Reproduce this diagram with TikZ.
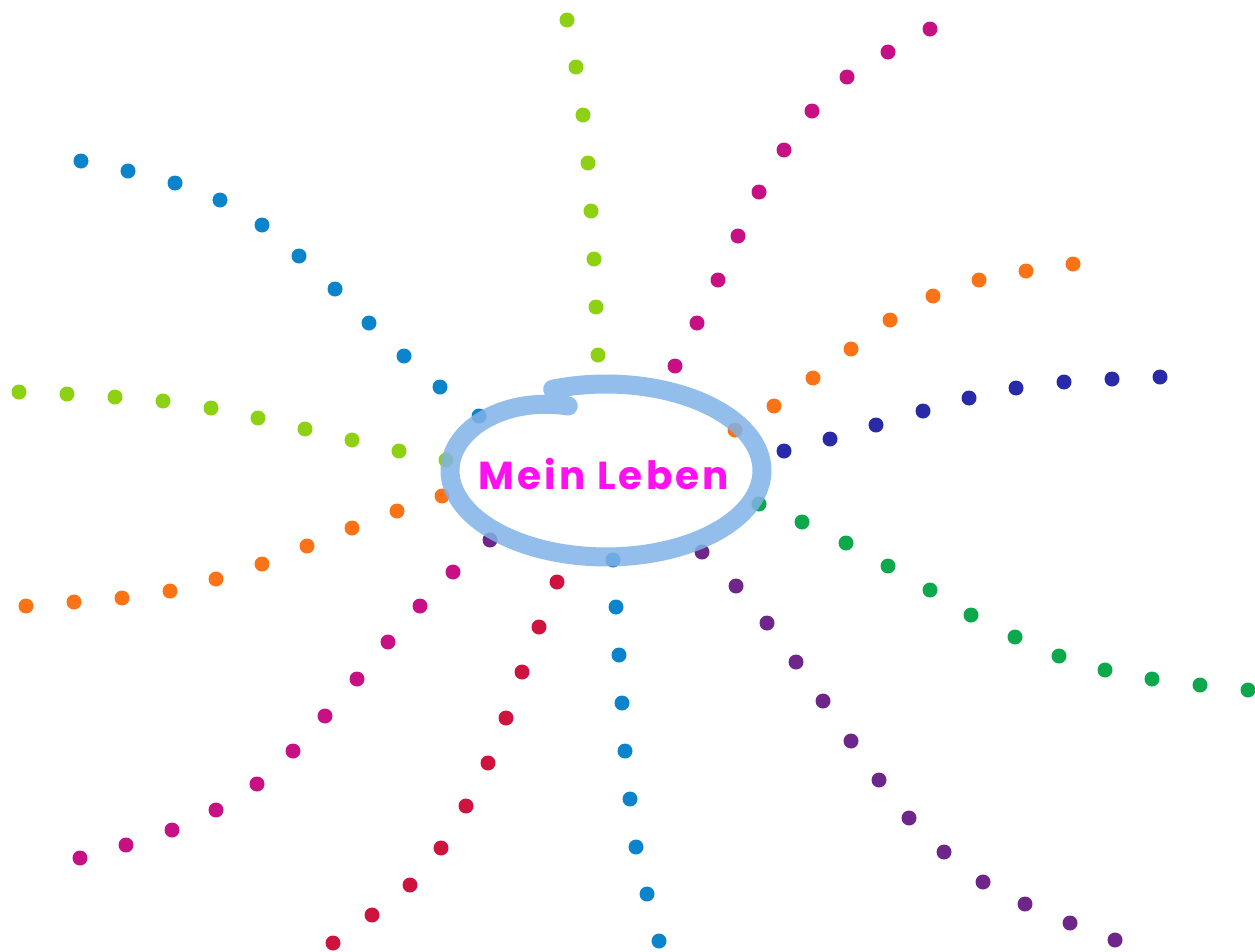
\documentclass[tikz,border=0pt]{standalone}
\usepackage{fontspec}
\newfontfamily\titlefont{Poppins}[LetterSpace=8]
\definecolor{clime}{RGB}{142,208,18}
\definecolor{cmag}{RGB}{198,16,132}
\definecolor{corange}{RGB}{250,115,22}
\definecolor{cdblue}{RGB}{40,42,168}
\definecolor{cgreen}{RGB}{14,168,76}
\definecolor{cpurple}{RGB}{110,38,138}
\definecolor{cblue}{RGB}{12,132,204}
\definecolor{cred}{RGB}{206,20,62}
\definecolor{ring}{RGB}{128,178,232}
\definecolor{titlemag}{RGB}{255,16,240}
\begin{document}
\begin{tikzpicture}[x=1pt,y=-1pt,
  dotstyle/.style={fill=#1},
  ringstyle/.style={draw=ring,line width=19pt,line cap=round,opacity=0.85}]
\useasboundingbox (0,0) rectangle (1255,951);
% rays of dots
\newcommand{\dotray}[2]{\foreach \p in {#2}{\fill[dotstyle=#1] \p circle[radius=7.5];}}
\dotray{clime}{(567,20),(576,67),(583,115),(588,163),(591,211),(594,259),(596,307),(598,355)}
\dotray{cmag}{(930,29),(888,52),(847,77),(812,111),(784,150),(759,192),(738,236),(718,280),(697,323),(675,366)}
\dotray{corange}{(1073,264),(1026,271),(979,280),(933,296),(890,320),(851,349),(813,378),(774,406),(735,430)}
\dotray{cdblue}{(1160,377),(1112,379),(1064,382),(1016,388),(969,398),(923,411),(876,425),(830,439),(784,451)}
\dotray{cgreen}{(759,504),(802,522),(846,543),(888,566),(930,590),(971,615),(1015,637),(1059,656),(1105,670),(1152,679),(1200,685),(1248,690)}
\dotray{cpurple}{(702,552),(736,586),(767,623),(796,662),(823,701),(851,741),(879,780),(909,818),(944,852),(983,882),(1025,904),(1070,923),(1115,940)}
\dotray{cblue}{(613,560),(616,607),(619,655),(622,703),(625,751),(630,799),(636,847),(647,894),(659,941)}
\dotray{cred}{(557,582),(539,627),(522,672),(506,718),(488,763),(466,806),(441,848),(410,885),(372,915),(333,943)}
\dotray{cpurple}{(490,540)}
\dotray{cmag}{(453,572),(420,606),(388,642),(357,679),(325,716),(293,751),(257,784),(216,810),(172,830),(126,845),(80,858)}
\dotray{corange}{(442,496),(397,511),(352,528),(307,546),(262,564),(216,579),(170,591),(122,598),(74,602),(26,606)}
\dotray{clime}{(446,460),(399,451),(352,440),(305,429),(258,418),(211,408),(163,401),(115,397),(67,394),(19,392)}
\dotray{cblue}{(479,416),(440,387),(404,356),(369,323),(335,289),(299,256),(262,225),(220,200),(175,183),(128,171),(81,161)}
% hand-drawn ring
\draw[ringstyle] plot[domain=104:470,samples=140,smooth,variable=\t]
  ({606+156*cos(\t)},{470.5-(86.5-20*exp(-(\t-104)/28))*sin(\t)});
% title
\node[text=titlemag,font=\titlefont\bfseries\fontsize{39}{44}\selectfont] (title) at (604,474) {Mein Leben};
\end{tikzpicture}
\end{document}
